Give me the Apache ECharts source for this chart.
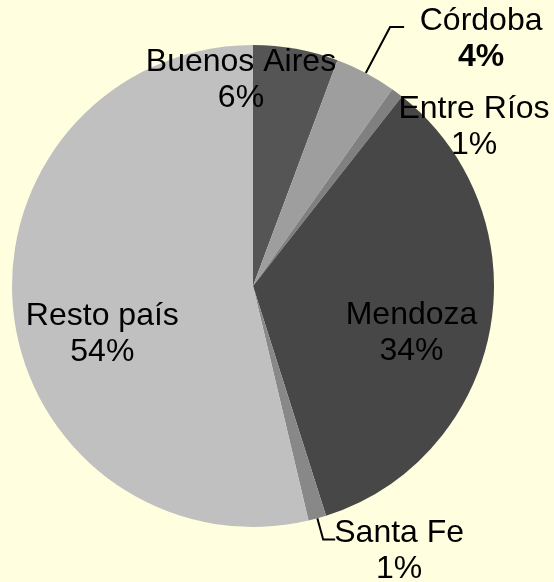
<!DOCTYPE html>
<html>
<head>
<meta charset="utf-8">
<script src="https://cdn.jsdelivr.net/npm/echarts@6/dist/echarts.min.js"></script>
<style>
	html, body { margin: 0; padding: 0; background: #FFFFE0; }
	#main { width: 554px; height: 582px; }
</style>
</head>
<body>
<div id="main"></div>
<script>
// participacion por provincia
var provincias = ['Buenos Aires', 'Córdoba', 'Entre Ríos', 'Mendoza', 'Santa Fe', 'Resto país'];
var valores = [5.7, 4.1, 0.8, 34.5, 1.2, 53.7];
var colores = ['#555555', '#9E9E9E', '#808080', '#474747', '#888888', '#C0C0C0'];
var posiciones = ['inside', 'outside', 'outside', 'inside', 'outside', 'inside'];
var lineas = [false, true, false, false, true, false];
var largoLinea = [[0, 0], [52, 14], [45, 10], [0, 0], [22, 12], [0, 0]];
// desplazamiento de etiquetas
var ajustes = [[-34, -84], [72, 12], [35, 70], [37, 25], [59, 12], [-28, 34]];

var datos = [];
for (var i = 0; i < provincias.length; i++) {
	datos.push({
		name: provincias[i],
		value: valores[i],
		itemStyle: {color: colores[i]},
		label: {
			position: posiciones[i],
			formatter: i == 1 ? '{b}\n{n|{d}%}' : '{b}\n{d}%'
		},
		labelLine: {show: lineas[i], length: largoLinea[i][0], length2: largoLinea[i][1]}
	});
}

var myChart = echarts.init(document.getElementById('main'));
myChart.setOption({
	backgroundColor: '#FFFFE0',
	animation: false,
	series: [{
		type: 'pie',
		center: [253, 286],
		radius: 241,
		startAngle: 90,
		clockwise: true,
		percentPrecision: 0,
		avoidLabelOverlap: false,
		label: {
			color: '#000',
			fontFamily: 'Liberation Sans',
			fontSize: 32,
			lineHeight: 36,
			align: 'center',
			rich: {
				n: {fontFamily: 'Liberation Sans', fontSize: 32, fontWeight: 'bold', lineHeight: 36, color: '#000'}
			}
		},
		labelLine: {
			lineStyle: {color: '#000', width: 2}
		},
		labelLayout: function (params) {
			var a = ajustes[params.dataIndex];
			return {dx: a[0], dy: a[1], align: 'center'};
		},
		emphasis: {disabled: true},
		data: datos
	}]
});
</script>
</body>
</html>
